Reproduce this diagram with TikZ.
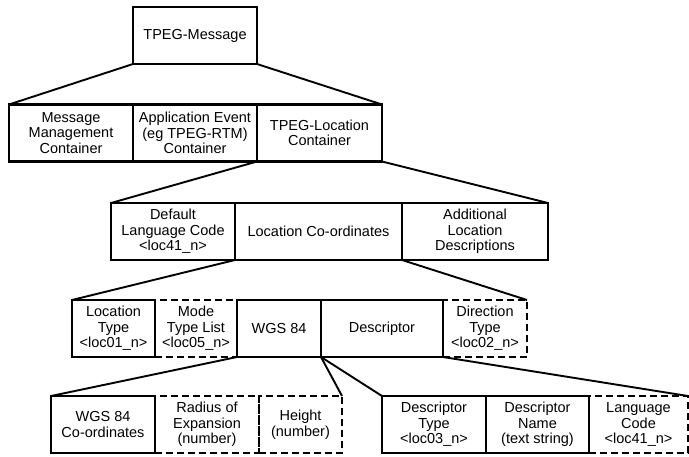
\documentclass[tikz,border=0pt]{standalone}
\usepackage{fontspec}
\setmainfont{Liberation Sans}
\usetikzlibrary{positioning}

\begin{document}
\begin{tikzpicture}[x=1pt, y=-1pt,
    box/.style={draw, line width=2.3pt, outer sep=0pt, inner sep=1pt, align=center,
        minimum height=57pt, font=\fontsize{14.5}{15.5}\selectfont},
    optbox/.style={box, dash pattern=on 7pt off 4pt},
    link/.style={line width=1.9pt}]
        \useasboundingbox (0,0) rectangle (689,456);

        % Message
        \node[box, minimum width=124pt] (msg) at (195,35.5) {TPEG-Message};

        % Containers
        \node[box, minimum width=124pt, anchor=west] (mmc) at (9,133) {Message\\Management\\Container};
        \node[box, minimum width=124pt, right=0pt of mmc] (aec) {Application Event\\(eg TPEG-RTM)\\Container};
        \node[box, minimum width=125pt, right=0pt of aec] (tlc) {TPEG-Location\\Container};

        % Location container
        \node[box, minimum width=124pt, anchor=west] (dlc) at (111,231.5) {Default\\Language Code\\<loc41\_n>};
        \node[box, minimum width=167pt, right=0pt of dlc] (lco) {Location Co-ordinates};
        \node[box, minimum width=146pt, right=0pt of lco] (ald) {Additional\\Location\\Descriptions};

        % Co-ordinates
        \node[box, minimum width=83pt, anchor=west] (lty) at (72,328.5) {Location\\Type\\<loc01\_n>};
        \node[optbox, minimum width=82pt, right=0pt of lty] (mtl) {Mode\\Type List\\<loc05\_n>};
        \node[box, minimum width=84pt, right=0pt of mtl] (wgs) {WGS 84};
        \node[box, minimum width=122pt, right=0pt of wgs] (dsc) {Descriptor};
        \node[optbox, minimum width=84pt, right=0pt of dsc] (dir) {Direction\\Type\\<loc02\_n>};

        % WGS 84
        \node[box, minimum width=104pt, anchor=west] (wco) at (51,424.5) {WGS 84\\Co-ordinates};
        \node[optbox, minimum width=104pt, right=0pt of wco] (rad) {Radius of\\Expansion\\(number)};
        \node[optbox, minimum width=83pt, right=0pt of rad] (hgt) {Height\\(number)};

        % Descriptor
        \node[box, minimum width=104pt, anchor=west] (dty) at (382,424.5) {Descriptor\\Type\\<loc03\_n>};
        \node[box, minimum width=103pt, right=0pt of dty] (dnm) {Descriptor\\Name\\(text string)};
        \node[optbox, minimum width=99pt, right=0pt of dnm] (lcd) {Language\\Code\\<loc41\_n>};

        % Expansion lines
        \draw[link] (msg.south west) -- (mmc.north west);
        \draw[link] (msg.south east) -- (tlc.north east);
        \draw[link] (tlc.south west) -- (dlc.north west);
        \draw[link] (tlc.south east) -- (ald.north east);
        \draw[link] (lco.south west) -- (lty.north west);
        \draw[link] (lco.south east) -- (dir.north east);
        \draw[link] (wgs.south west) -- (wco.north west);
        \draw[link] (wgs.south east) -- (hgt.north east);
        \draw[link] (dsc.south west) -- (dty.north west);
        \draw[link] (dsc.south east) -- (lcd.north east);
    \end{tikzpicture}
\end{document}
